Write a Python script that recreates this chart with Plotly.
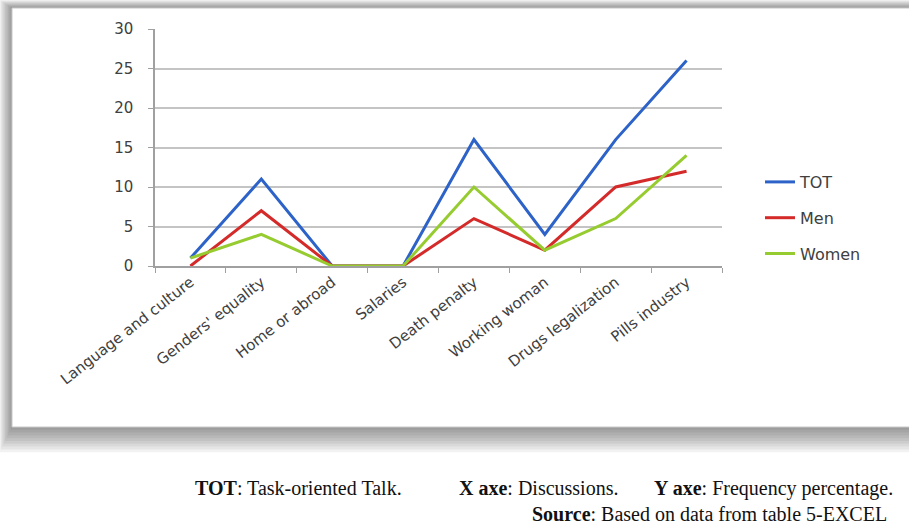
import plotly.graph_objects as go

categories = ["Language and culture", "Genders' equality", "Home or abroad", "Salaries",
              "Death penalty", "Working woman", "Drugs legalization", "Pills industry"]
tot = [1, 11, 0, 0, 16, 4, 16, 26]
men = [0, 7, 0, 0, 6, 2, 10, 12]
women = [1, 4, 0, 0, 10, 2, 6, 14]
y_ticks = [0, 5, 10, 15, 20, 25, 30]

W, H = 909, 526
L, R, T, B = 155, 722, 29, 266  # plot area in pixels


def px(x):
    return (x - L) / (R - L)


def py(y):
    return (B - y) / (B - T)


fig = go.Figure()
series = [("TOT", tot, "#2D63C8"), ("Men", men, "#D42A2A"), ("Women", women, "#96CC30")]
for name, vals, col in series:
    fig.add_trace(go.Scatter(x=categories, y=vals, mode="lines", name=name,
                             legendgroup=name,
                             line=dict(color=col, width=3)))

shapes = []
# shadow around the chart frame
for i in range(1, 10):
    shapes.append(dict(type="rect", xref="paper", yref="paper", layer="below",
                       x0=px(12 - 1.4 * i), x1=px(915), y0=py(427 + 2.8 * i), y1=py(8 - 0.9 * i),
                       fillcolor="rgba(0,0,0,0.05)", line=dict(width=0)))
shapes.append(dict(type="rect", xref="paper", yref="paper", layer="below",
                   x0=px(12), x1=px(915), y0=py(427), y1=py(8),
                   fillcolor="white", line=dict(color="#c8c8c8", width=1)))

cap_font = dict(family="Liberation Serif, Times New Roman, serif", size=20, color="#111111")
annotations = []
segments = [
    (193, 488, "<b>TOT</b>: Task-oriented Talk."),
    (457, 488, "<b>X axe</b>: Discussions."),
    (652, 488, "<b>Y axe</b>: Frequency percentage."),
    (530, 514, "<b>Source</b>: Based on data from table 5-EXCEL"),
]
for x, y, txt in segments:
    annotations.append(dict(text=txt, xref="paper", yref="paper", x=px(x), y=py(y),
                            xanchor="left", yanchor="middle", showarrow=False, font=cap_font))

fig.update_layout(
    width=W, height=H,
    margin=dict(l=L, r=W - R, t=T, b=H - B, pad=0),
    paper_bgcolor="white", plot_bgcolor="rgba(0,0,0,0)",
    showlegend=True,
    legend=dict(x=px(760), y=py(218), xanchor="left", yanchor="middle",
                font=dict(family="DejaVu Sans", size=16, color="#404040"),
                tracegroupgap=12, bgcolor="rgba(0,0,0,0)"),
    shapes=shapes, annotations=annotations,
    xaxis=dict(type="category", range=[-0.5, 7.5], tickson="boundaries",
               ticks="outside", ticklen=5, tickcolor="#a0a0a0",
               showline=True, linecolor="#a0a0a0", linewidth=1.5,
               showgrid=False, tickangle=-38,
               tickfont=dict(family="DejaVu Sans", size=15, color="#404040")),
    yaxis=dict(range=[0, 30], tickvals=y_ticks, ticks="outside", ticklen=5,
               tickcolor="#a0a0a0", showline=True, linecolor="#a0a0a0", linewidth=1.5,
               showgrid=True, gridcolor="#c4c4c4", gridwidth=2, zeroline=False,
               ticklabelstandoff=12,
               tickfont=dict(family="DejaVu Sans", size=15, color="#404040")),
)

fig.write_html("out.html")
